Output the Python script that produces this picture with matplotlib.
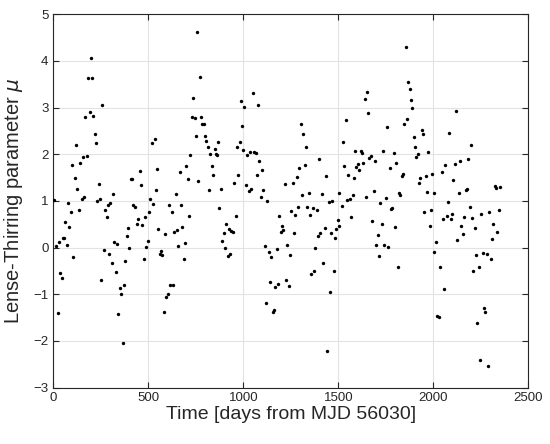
import matplotlib
matplotlib.use("Agg")
import matplotlib.pyplot as plt

days = [5, 14, 23, 30, 37, 44, 49, 56, 63, 70, 77, 84, 93, 98, 105, 112, 119, 126, 135, 142,
        149, 154, 161, 168, 176, 182, 191, 196, 203, 210, 217, 224, 232, 239, 244, 253, 258, 266,
        274, 281, 290, 294, 298, 309, 316, 321, 328, 337, 342, 351, 358, 365, 370, 379, 386, 391,
        400, 409, 416, 419, 431, 440, 446, 454, 461, 468, 477, 484, 489, 496, 502,
        511, 519, 525, 533, 540, 547, 553, 560, 567, 574, 581, 588, 595, 602, 609, 616, 626, 630,
        637, 644, 651, 658, 665, 672, 679, 688, 693, 700, 707, 714, 721, 728, 735, 744, 749, 756,
        763, 770, 777, 784, 793, 798, 805, 812, 819, 826, 833, 839, 849, 854, 863, 868, 874, 882,
        889, 896, 903, 909, 917, 924, 931, 935, 944, 951, 960, 967, 972, 981, 988, 995, 1000, 1005,
        1014, 1021, 1028, 1035, 1042, 1049, 1056, 1065, 1070, 1077, 1084, 1091, 1098, 1105, 1112,
        1119, 1126, 1133, 1140, 1147, 1154, 1161, 1168, 1175, 1182, 1189, 1196, 1203, 1210, 1218,
        1224, 1231, 1239, 1245, 1253, 1260, 1267, 1274, 1281, 1288, 1295, 1302, 1309, 1316, 1323,
        1330, 1337, 1344, 1351, 1358, 1365, 1372, 1379, 1388, 1393, 1400, 1405, 1414, 1421, 1428,
        1435, 1442, 1449, 1456, 1463, 1468, 1477, 1484, 1489, 1498, 1502, 1505,
        1518, 1525, 1532, 1540, 1547, 1553, 1560, 1567, 1575, 1581, 1589, 1595, 1602, 1609, 1617,
        1623, 1630, 1639, 1644, 1651, 1658, 1663, 1672, 1679, 1689, 1693, 1700, 1707, 1714, 1721,
        1728, 1735, 1742, 1749, 1756, 1763, 1770, 1777, 1784, 1791, 1798, 1805, 1812, 1819, 1826,
        1835, 1840, 1847, 1854, 1861, 1868, 1875, 1882, 1889, 1896, 1903, 1910, 1917, 1925, 1932,
        1939, 1946, 1953, 1960, 1967, 1974, 1981, 1987, 1995, 2002, 2005,
        2014, 2021, 2028, 2035, 2044, 2049, 2056, 2063, 2070, 2077, 2084, 2093, 2098, 2105, 2112,
        2119, 2126, 2133, 2142, 2147, 2154, 2161, 2170, 2175, 2182, 2191, 2196, 2203, 2211, 2217,
        2225, 2232, 2239, 2246, 2253, 2260, 2267, 2274, 2281, 2288, 2295, 2302, 2309, 2316, 2323,
        2330, 2337, 2344, 2351]

mu = [1.02, 0.03, -1.41, 0.11, -0.55, -0.66, 0.21, 0.21, 0.54, 0.06, 0.95, 0.44, 0.76, 1.76,
      -0.21, 1.49, 2.19, 1.26, 0.81, 1.81, 1.04, 1.95, 1.08, 2.79, 1.97, 3.64, 2.91, 4.07, 3.64,
      2.82, 2.44, 2.24, 0.99, 1.36, 1.05, -0.70, 3.05, -0.06, 0.81, 0.65, 0.92, -0.13, 0.96,
      -0.32, 1.14, 0.11, -0.53, 0.08, -1.43, -0.87, -0.99, -2.04, -0.81, -0.28, 0.25, 0.41,
      -0.01, 1.46, 1.46, 0.91, 0.88, 0.50, 0.61, 1.65, 1.34, 0.49, -0.24, 0.66, 0.01, 0.15, 0.77,
      1.04, 2.23, 0.94, 2.33, 1.24, 1.69, 0.40, -0.14, -0.08, -0.16, -1.39, 0.29, -1.06, -0.99,
      0.92, -0.81, 0.77, -0.81, 0.34, 1.14, 0.37, 0.04, 1.61, 0.91, 0.45, -0.25, 0.09, 1.74,
      1.46, 0.67, 1.98, 2.79, 3.20, 2.78, 2.39, 4.62, 1.42, 3.66, 2.80, 2.64, 2.64, 2.38, 2.29,
      2.16, 1.23, 2.01, 1.75, 1.56, 2.11, 2.01, 1.98, 2.26, 0.85, 1.26, 0.14, 0.32, -0.01, 0.51,
      -0.19, 0.39, -0.14, 0.36, 0.33, 1.39, 0.68, 2.16, 1.56, 2.26, 3.14, 2.61, 2.09, 3.02,
      1.34, 1.98, 1.22, 2.04, 1.26, 3.32, 2.04, 2.03, 1.55, 3.06, 1.85, 1.08, 1.66, 1.23, 0.04,
      -1.19, 0.99, -0.09, -0.73, -0.21, -1.38, -1.34, -0.84, -0.04, -0.77, 0.68, 0.34, 0.47,
      0.37, 1.37, -0.69, 0.06, -0.83, -0.16, 0.79, 1.38, 0.32, 0.70, 1.51, 0.86, 1.71, 2.64,
      1.12, 2.44, 1.78, 2.16, 0.86, 1.16, 0.70, -0.56, 0.84, -0.51, 0.00, 0.81, 0.25, 1.89,
      0.31, 1.15, -0.34, 0.43, 1.53, -2.21, 0.98, -0.96, 0.32, 1.00, -0.51, 0.20, 0.39, 0.59,
      0.47, 1.17,
      0.90, 2.27, 1.74, 2.73, 1.03, 1.56, 1.05, 0.65, 1.12, 1.49, 2.08, 1.72, 1.80, 1.66, 2.06,
      2.02, 1.81, 3.19, 1.08, 3.34, 2.88, 1.92, 1.96, 0.57, 1.21, 1.86, 0.06, 0.26, -0.19, 0.96,
      0.51, 2.07, 0.06, 1.06, 2.59, 0.01, 1.71, 0.82, 0.85, 2.02, 0.45, 1.81, -0.41, 1.18, 1.12,
      1.54, 1.57, 2.64, 4.30, 2.76, 3.54, 3.39, 3.16, 2.98, 2.36, 2.15, 1.95, 2.01, 1.39, 1.50,
      2.51, 2.43, 0.77, 1.54, 1.20, 2.04, 0.47, 0.80, 1.58, 1.18, -0.10,
      0.12, -1.46, -1.48, -0.41, 1.62, 0.62, -0.89, 1.78, 0.68, 0.98, 2.46, 0.62, 0.73, 1.44,
      1.80, 2.93, 0.16, 1.16, 1.86, 0.46, 0.30, 0.65, 1.23, 1.26, 1.89, 0.87, 2.20, 0.63, -0.51,
      0.42, -0.15, -1.62, -0.41, -2.41, 0.73, -0.12, -1.29, -1.37, -0.13, -2.54, 0.76, -0.25,
      0.19, 0.50, 1.31, 1.27, 0.34, 0.81, 1.30]

x_ticks = [0, 500, 1000, 1500, 2000, 2500]
y_ticks = [-3, -2, -1, 0, 1, 2, 3, 4, 5]

plt.rcParams['font.family'] = ['Liberation Sans', 'DejaVu Sans']

fig = plt.figure(figsize=(5.5, 4.44), dpi=100)
ax = fig.add_axes([0.097, 0.127, 0.8636, 0.841])
ax.scatter(days, mu, s=6, c='black', linewidths=0, zorder=3)

ax.set_xlim(0, 2500)
ax.set_ylim(-3, 5)
ax.set_xticks(x_ticks)
ax.set_yticks(y_ticks)
ax.grid(True, color='#e3e3e3', linewidth=0.8)
ax.set_axisbelow(True)
for sp in ax.spines.values():
    sp.set_color('#262626')
    sp.set_linewidth(0.8)
ax.tick_params(direction='in', top=True, right=True, length=4, width=0.8,
               colors='#262626', labelsize=9.5)
ax.set_xlabel('Time [days from MJD 56030]', fontsize=14, color='#262626', labelpad=1)
ax.set_ylabel('Lense-Thirring parameter $\\mu$', fontsize=14.5, color='#262626', labelpad=6)

fig.savefig('out.png', dpi=100)
